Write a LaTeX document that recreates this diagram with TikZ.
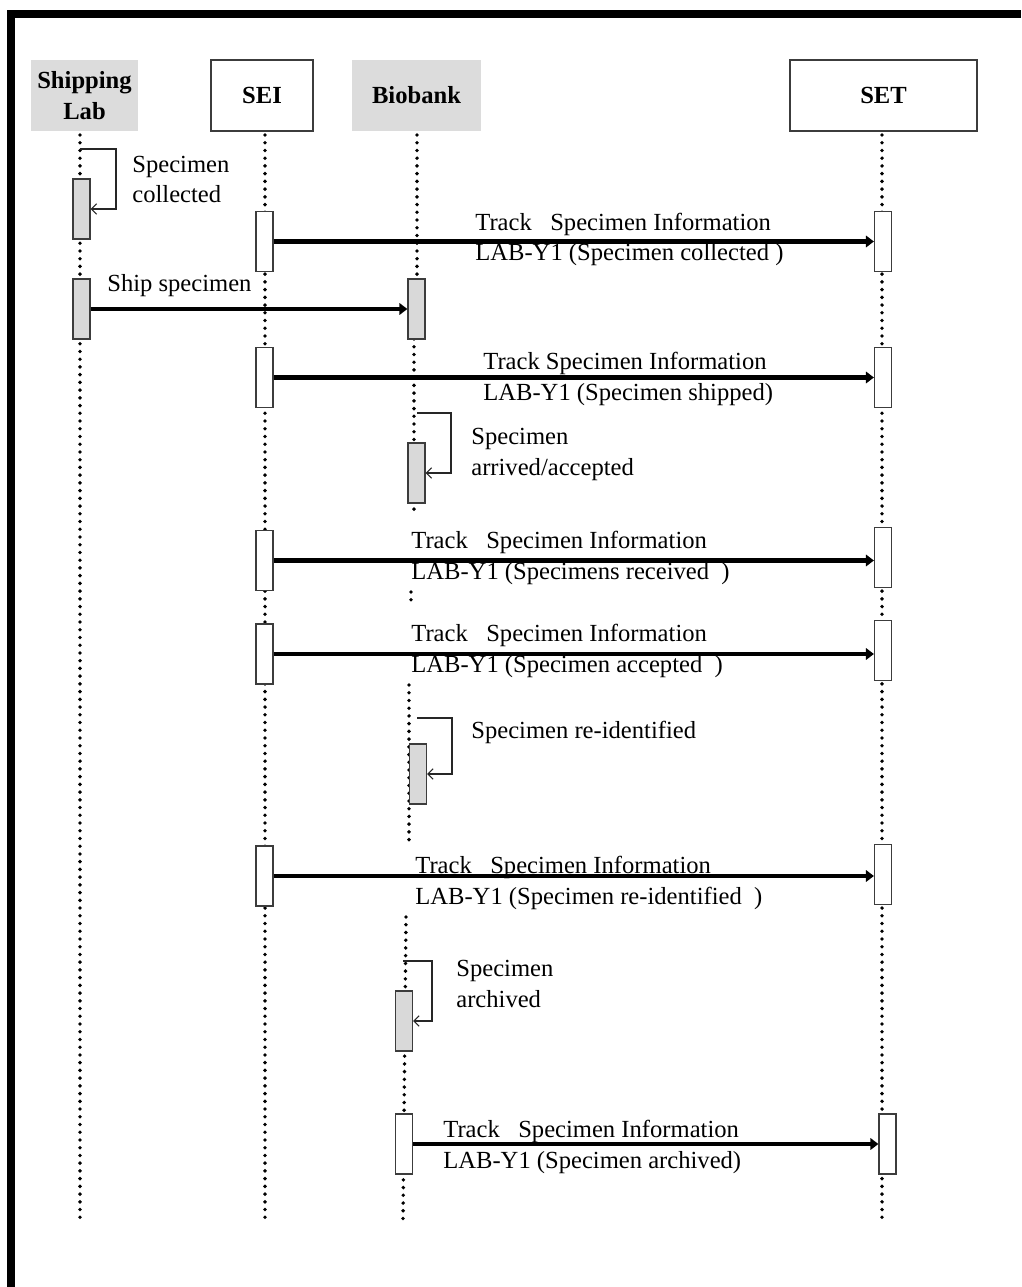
\documentclass[tikz,border=0pt]{standalone}
\usepackage{fontspec}
\setmainfont{Liberation Serif}
\usetikzlibrary{arrows.meta,positioning,calc}
\definecolor{hdrgray}{RGB}{220,220,220}
\definecolor{actgray}{RGB}{217,217,217}
\definecolor{edgegray}{RGB}{60,60,60}

\begin{document}
\begin{tikzpicture}[x=0.02cm,y=-0.02cm,
  every node/.style={font=\fontsize{14}{17.6}\selectfont},
  actor/.style={minimum width=#1, minimum height=1.42cm, inner sep=0pt, align=center,
                font=\fontsize{14}{17.6}\selectfont\bfseries},
  act/.style={draw=edgegray, line width=0.7pt, minimum width=0.34cm, minimum height=1.2cm, inner sep=0pt},
  lifeline/.style={line width=2.2pt, dash pattern=on 0pt off 4.4pt, line cap=round},
  msg/.style={line width=2.4pt, -{Triangle[length=4.5pt,width=6.5pt]}},
  selfmsg/.style={line width=0.6pt, draw=black!85, -{Straight Barb[length=3pt,width=6pt]}},
  lbl/.style={anchor=base west, inner sep=0pt, align=left}]
  \useasboundingbox (0,0) rectangle (1021,1287);
  \draw[line width=0.16cm, line join=miter] (11,1287) -- (11,14) -- (1021,14);

  % ---- header boxes
  \node[actor=2.14cm, fill=hdrgray] (shiplab) at (84.5,95.5) {Shipping\\Lab};
  \node[actor=2.04cm, draw=edgegray, line width=0.8pt] (sei) at (262,95.5) {SEI};
  \node[actor=2.58cm, fill=hdrgray] (biobank) at (416.5,95.5) {Biobank};
  \node[actor=3.74cm, draw=edgegray, line width=0.8pt] (set) at (883.5,95.5) {SET};

  % ---- lifelines
  \draw[lifeline] (80,135) -- (80,1218);
  \draw[lifeline] (265,135) -- (265,1222);
  \draw[lifeline] (882,135) -- (882,1220);
  \draw[lifeline] (417,135) -- (417,279);
  \draw[lifeline] (414,339) -- (414,515);
  \draw[lifeline] (411,592) -- (411,606);
  \draw[lifeline] (409,685) -- (409,843);
  \draw[lifeline] (406,917) -- (403,1220);

  % ---- activations
  \node[act, fill=actgray] (sl1) at (81.5,209) {};
  \node[act, fill=actgray] (sl2) at (81.5,309) {};
  \node[act, fill=white] (sei1) at (264.5,241.5) {};
  \node[act, fill=white] (sei2) at (264.5,377.5) {};
  \node[act, fill=white] (sei3) at (264.5,560.5) {};
  \node[act, fill=white] (sei4) at (264.5,654) {};
  \node[act, fill=white] (sei5) at (264.5,876) {};
  \node[act, fill=white] (set1) at (883,241.5) {};
  \node[act, fill=white] (set2) at (883,377.5) {};
  \node[act, fill=white] (set3) at (883,557.5) {};
  \node[act, fill=white] (set4) at (883,650.5) {};
  \node[act, fill=white] (set5) at (883,874.5) {};
  \node[act, fill=white] (set6) at (887.5,1144) {};
  \node[act, fill=actgray] (bio1) at (416.5,309) {};
  \node[act, fill=actgray] (bio2) at (416.5,473) {};
  \node[act, fill=actgray] (bio3) at (418,774) {};
  \node[act, fill=actgray] (bio4) at (404,1021) {};
  \node[act, fill=white] (bio5) at (404,1144) {};

  % ---- self messages
  \coordinate (collect) at (80,149);
  \coordinate (arrive) at (417,413);
  \coordinate (reid) at (417,718);
  \coordinate (archive) at (403,961);
  \draw[selfmsg] (collect) -- ++(36,0) |- (sl1.east);
  \draw[selfmsg] (arrive) -- ++(34,0) |- (bio2.east);
  \draw[selfmsg] (reid) -- ++(35,0) |- (bio3.east);
  \draw[selfmsg] (archive) -- ++(29,0) |- (bio4.east);
  \node[lbl] (collectlbl) at (132,203) {Specimen\\collected};
  \node[lbl] (arrivelbl) at (471,475) {Specimen\\arrived/accepted};
  \node[lbl] (reidlbl) at (471,738) {Specimen re-identified};
  \node[lbl] (archivelbl) at (456,1007) {Specimen\\archived};

  % ---- messages
  \draw[msg] (sl2.east) -- (sl2.east -| bio1.west);
  \draw[msg] (sei1.east) -- (sei1.east -| set1.west);
  \draw[msg] (sei2.east) -- (sei2.east -| set2.west);
  \draw[msg] (sei3.east) -- (sei3.east -| set3.west);
  \draw[msg] (sei4.east) -- (sei4.east -| set4.west);
  \draw[msg] (sei5.east) -- (sei5.east -| set5.west);
  \draw[msg] (bio5.east) -- (bio5.east -| set6.west);
  \node[lbl] (shiplbl) at (107,292) {Ship specimen};
  \node[lbl] (m1lbl) at (475,261) {Track\ \ \ Specimen Information\\LAB-Y1 (Specimen collected\ )};
  \node[lbl] (m2lbl) at (483,400) {Track Specimen Information\\LAB-Y1 (Specimen shipped)};
  \node[lbl] (m3lbl) at (411,579) {Track\ \ \ Specimen Information\\LAB-Y1 (Specimens received\ \ )};
  \node[lbl] (m4lbl) at (411,672) {Track\ \ \ Specimen Information\\LAB-Y1 (Specimen accepted\ \ )};
  \node[lbl] (m5lbl) at (415,904) {Track\ \ \ Specimen Information\\LAB-Y1 (Specimen re-identified\ \ )};
  \node[lbl] (m6lbl) at (443,1168) {Track\ \ \ Specimen Information\\LAB-Y1 (Specimen archived)};
\end{tikzpicture}
\end{document}
